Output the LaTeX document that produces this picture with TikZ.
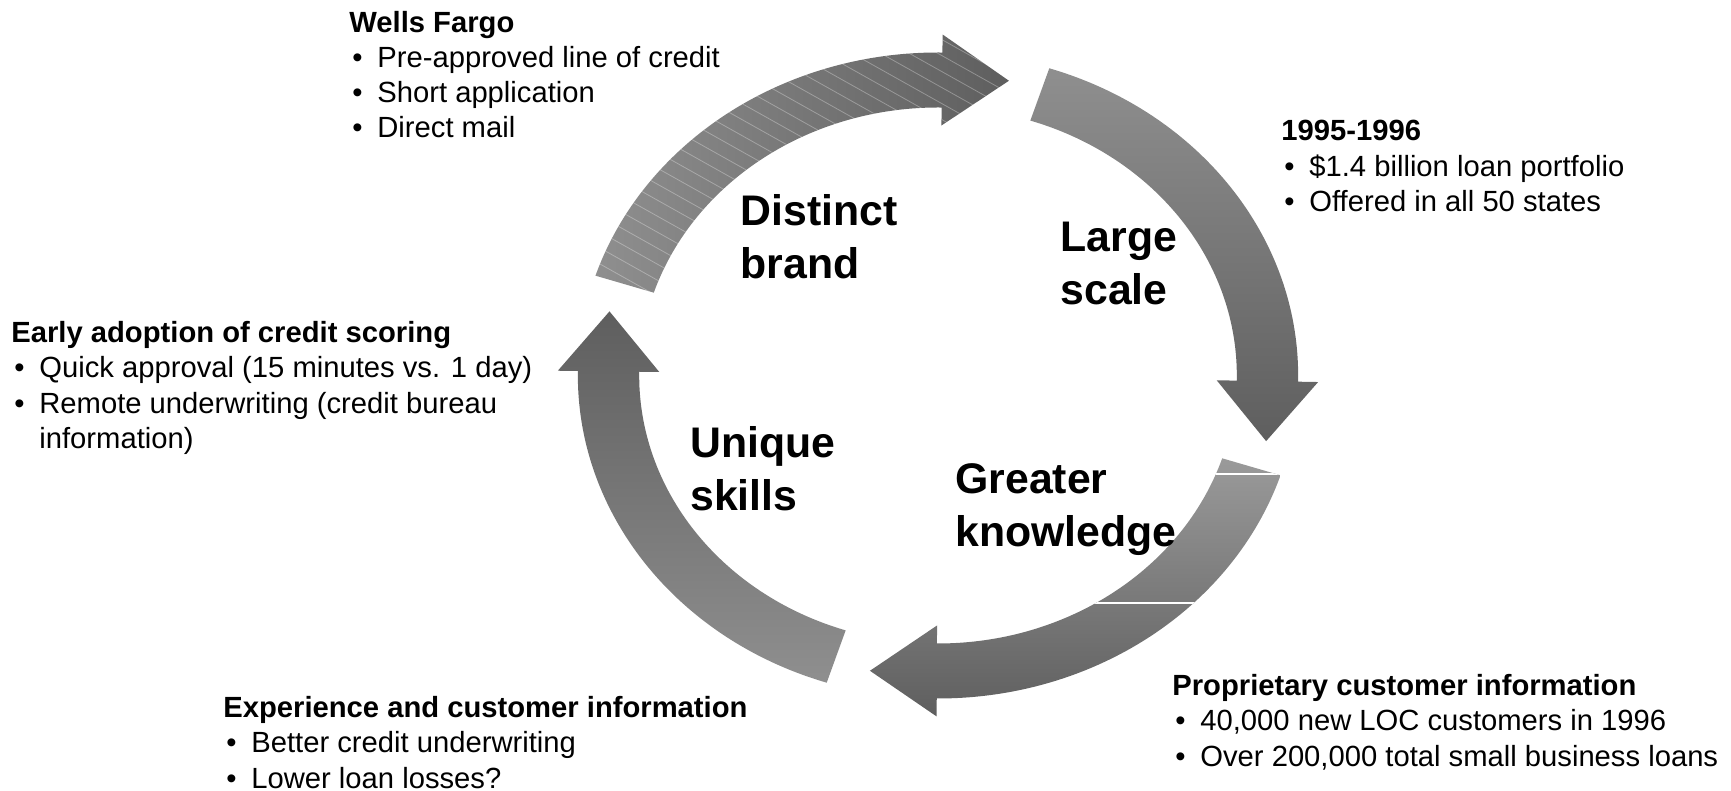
\documentclass[tikz,border=0pt]{standalone}
\usepackage{fontspec}
\setmainfont{Liberation Sans}
\usetikzlibrary{calc}

\definecolor{ringlight}{gray}{0.56}
\definecolor{ringdark}{gray}{0.37}

\newcommand{\bul}{\makebox[14pt][l]{\hspace{1.5pt}\textbullet}}
% one curved arrow of the ring: tail angle, head angle, path options
\newcommand{\cyclearrow}[3]{\path[#3] (#1:323) arc[start angle=#1, end angle=#2, radius=323]
    -- (#2:341) -- ($(#2:295.5)+(#2-90:60)$) -- (#2:250) -- (#2:268)
    arc[start angle=#2, end angle=#1, radius=268] -- cycle;}

\tikzset{
    info/.style={anchor=north west, inner sep=0pt, align=left, font=\fontsize{14.6}{17.65}\selectfont},
    stage/.style={anchor=north west, inner sep=0pt, align=left, font=\fontsize{21.4}{26.5}\selectfont\bfseries},
    hatch/.style={draw=white, opacity=0.3, line width=0.4pt},
}

\begin{document}
\begin{tikzpicture}[x=0.5pt,y=0.5pt]
    \useasboundingbox (0,0) rectangle (1731,791);

    \begin{scope}[shift={(938,415.5)},xscale=1.115]
        \cyclearrow{162}{89.3}{left color=ringlight, right color=ringdark}
        \cyclearrow{72}{-1.1}{top color=ringlight, bottom color=ringdark}
        \cyclearrow{-18}{-90.2}{top color=ringlight!90!white, bottom color=ringdark}
        \cyclearrow{-108}{-180.8}{top color=ringdark, bottom color=ringlight}
        \begin{scope}
            \cyclearrow{162}{89.3}{clip}
            \foreach \b in {140,156,...,660} {
                    \draw[hatch] (-400,\b) -- ++(-32:900);
                }
        \end{scope}
        \begin{scope}
            \cyclearrow{-18}{-90.2}{clip}
            \foreach \h in {-98.5,-227.5} {
                    \draw[white,line width=1pt] (0,\h) -- (400,\h);
                }
        \end{scope}
    \end{scope}

    \node[stage] (brand) at (740,596.5) {Distinct\\brand};
    \node[stage] (largescale) at (1060,569) {Large\\scale};
    \node[stage] (knowledge) at (955,328) {Greater\\knowledge};
    \node[stage] (skills) at (690,365) {Unique\\skills};

    \node[info] (wells) at (349,780.5) {\textbf{Wells Fargo}\\ \bul Pre-approved line of credit\\ \bul Short application\\ \bul Direct mail};
    \node[info] (period) at (1281,671) {\textbf{1995-1996}\\ \bul \$1.4 billion loan portfolio\\ \bul Offered in all 50 states};
    \node[info] (scoring) at (11,470) {\textbf{Early adoption of credit scoring}\\ \bul Quick approval (15 minutes vs. 1 day)\\ \bul Remote underwriting (credit bureau\\ \makebox[14pt]{}information)};
    \node[info] (experience) at (223,95) {\textbf{Experience and customer information}\\ \bul Better credit underwriting\\ \bul Lower loan losses?};
    \node[info] (proprietary) at (1172,117) {\textbf{Proprietary customer information}\\ \bul 40,000 new LOC customers in 1996\\ \bul Over 200,000 total small business loans};
\end{tikzpicture}
\end{document}
